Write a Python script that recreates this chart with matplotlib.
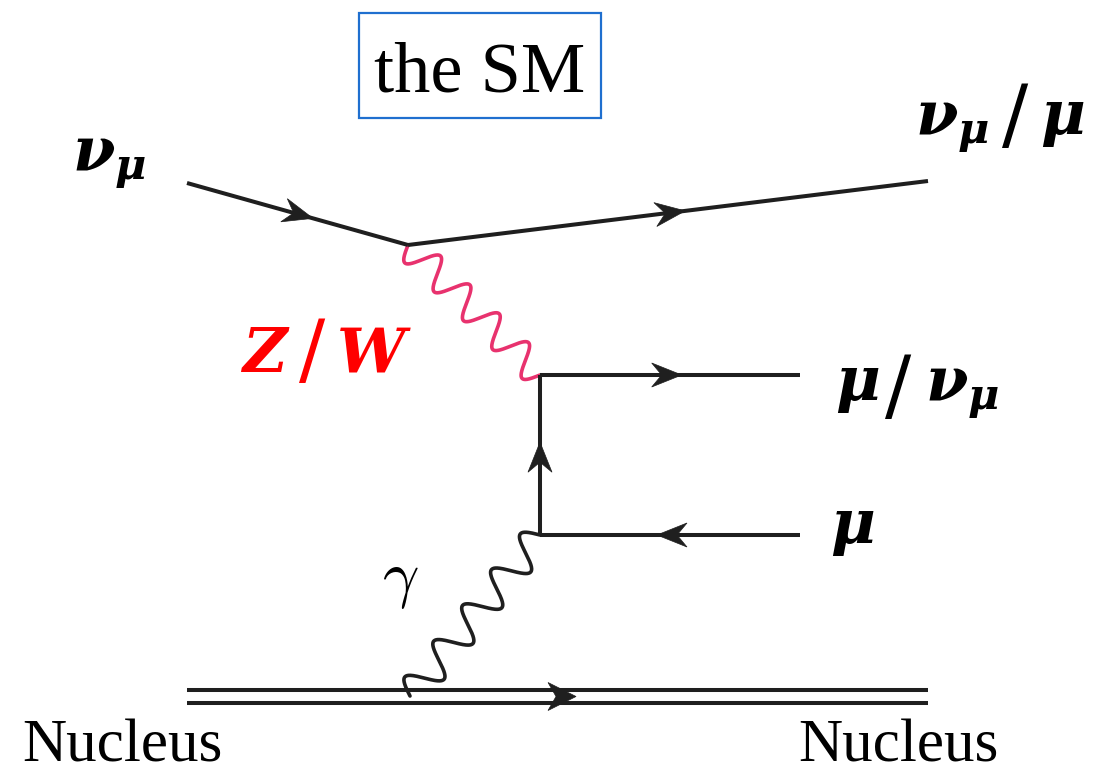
import numpy as np
import matplotlib.pyplot as plt
from matplotlib.patches import Polygon, Rectangle

plt.rcParams['mathtext.fontset'] = 'dejavuserif'

# canvas in pixel units (y grows downwards)
W, H = 1097, 776

# ===== vertices =====
v_top = (408, 245)    # nu - Z/W vertex
v_up = (540, 375)     # Z/W - muon vertex
v_low = (540, 535)    # photon - muon vertex
v_nuc = (410, 696)    # photon - nucleus

nu_in = (187, 183)
lep_out = (928, 181)
mu_out = (800, 375)
mu_in = (800, 535)

nuc_x = [187, 928]
nuc_y = [690, 703]

# fermion lines: (start, end, arrow-tip fraction along the line)
fermions = [
    (nu_in, v_top, 0.57),
    (v_top, lep_out, 0.533),
    (v_up, mu_out, 0.545),
    (v_low, v_up, 0.58),
    (mu_in, v_low, 0.55),
]
nuc_arrow_t = 0.525

# boson lines: (start, end, periods, amplitude, colour)
bosons = [
    (v_top, v_up, 4.5, 15, '#e8326e'),
    (v_low, v_nuc, 4.5, 16, '#1f1f1f'),
]

INK = '#1f1f1f'

NU = r'$\boldsymbol{\nu}_{\boldsymbol{\mu}}$'
MU = r'$\boldsymbol{\mu}$'

# labels split around the slash: (left part, x, baseline), slash centre, (right part, x)
pair_labels = [
    (NU, 915, 134, (1015, 119), MU, 1040, 'black'),
    (MU, 835, 400, (898, 390), NU, 925, 'black'),
    (r'$\boldsymbol{Z}$', 240, 372, (312, 354), r'$\boldsymbol{W}$', 336, 'red'),
]


def arrow_head(ax, tip, u, length=30, half=12, notch=10):
    u = np.asarray(u, float)
    u = u / np.linalg.norm(u)
    n = np.array([-u[1], u[0]])
    tip = np.asarray(tip, float)
    back = tip - length * u
    pts = [tip, back + half * n, tip - (length - notch) * u, back - half * n]
    ax.add_patch(Polygon(pts, closed=True, fc=INK, ec=INK, lw=0.5, zorder=4))


def wavy(p0, p1, periods, amp, num=800):
    p0 = np.asarray(p0, float)
    p1 = np.asarray(p1, float)
    d = p1 - p0
    u = d / np.linalg.norm(d)
    nv = np.array([-u[1], u[0]])
    t = np.linspace(0, 1, num)
    pts = p0 + np.outer(t, d) + np.outer(amp * np.sin(2 * np.pi * periods * t), nv)
    return pts[:, 0], pts[:, 1]


fig = plt.figure(figsize=(W / 100, H / 100), dpi=100)
ax = fig.add_axes([0, 0, 1, 1])
ax.set_xlim(0, W)
ax.set_ylim(H, 0)
ax.axis('off')

for p0, p1, t in fermions:
    ax.plot([p0[0], p1[0]], [p0[1], p1[1]], color=INK, lw=2.9,
            solid_capstyle='butt', zorder=3)
    p0a, p1a = np.array(p0, float), np.array(p1, float)
    arrow_head(ax, p0a + t * (p1a - p0a), p1a - p0a)

for y in nuc_y:
    ax.plot(nuc_x, [y, y], color=INK, lw=2.9, solid_capstyle='butt', zorder=3)
tip_x = nuc_x[0] + nuc_arrow_t * (nuc_x[1] - nuc_x[0])
arrow_head(ax, (tip_x, np.mean(nuc_y)), (1, 0), length=28, half=14, notch=8)

for p0, p1, per, amp, col in bosons:
    xs, ys = wavy(p0, p1, per, amp)
    ax.plot(xs, ys, color=col, lw=2.6, solid_capstyle='round', zorder=2)

# ===== labels =====
ax.add_patch(Rectangle((359, 13), 242, 105, fill=False, ec='#1f6fcf', lw=1.6))
ax.text(480, 91, 'the SM', family='Liberation Serif', fontsize=52,
        ha='center', va='baseline')

bold = dict(fontsize=44, ha='left', va='baseline')
ax.text(72, 170, NU, color='black', **bold)
ax.text(830, 543, MU, color='black', **bold)
for left, xl, yb, (xs_, ys_), right, xr, col in pair_labels:
    ax.text(xl, yb, left, color=col, **bold)
    ax.text(xs_, ys_, '/', family='DejaVu Sans', fontsize=56, color=col,
            ha='center', va='center')
    ax.text(xr, yb, right, color=col, **bold)

ax.text(382, 595, r'$\gamma$', fontsize=46, ha='left', va='baseline',
        math_fontfamily='cm')

ax.text(22, 761, 'Nucleus', family='Liberation Serif', fontsize=44,
        ha='left', va='baseline')
ax.text(798, 761, 'Nucleus', family='Liberation Serif', fontsize=44,
        ha='left', va='baseline')

plt.savefig('out.png', dpi=100)
